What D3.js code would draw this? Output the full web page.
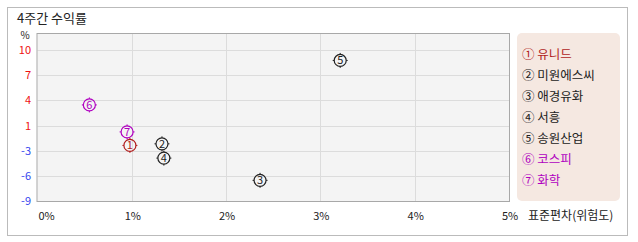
<!DOCTYPE html>
<html>
<head>
<meta charset="utf-8">
<script src="https://cdn.jsdelivr.net/npm/d3@7"></script>
<style>
  body { margin: 0; background: #fff; }
  text { font-family: "Noto Sans CJK KR", "DejaVu Sans", sans-serif; }
</style>
</head>
<body>
<div id="chart"></div>
<script>
// data
var names = ["유니드", "미원에스씨", "애경유화", "서흥", "송원산업", "코스피", "화학"];
var marks = ["①", "②", "③", "④", "⑤", "⑥", "⑦"];
var risk = [0.98, 1.32, 2.36, 1.34, 3.21, 0.55, 0.95];      // 표준편차 %
var returns = [-2.0, -1.8, -6.4, -3.6, 8.7, 3.1, -0.3];      // 4주간 수익률 %
var colors = ["#b01c1c", "#222222", "#222222", "#222222", "#222222", "#b000c0", "#b000c0"];
var xTicks = [0, 1, 2, 3, 4, 5];
var yTicks = [-9, -5.83, -2.67, 0.5, 3.67, 6.83, 10];

var W = 638, H = 242;
var plot = { left: 37.5, right: 509, top: 34, bottom: 201 };

var svg = d3.select("#chart").append("svg")
    .attr("width", W)
    .attr("height", H);

// outer frame
svg.append("rect")
    .attr("x", 7.5).attr("y", 7.5)
    .attr("width", 620).attr("height", 228)
    .attr("fill", "#fff")
    .attr("stroke", "#bbb");

svg.append("text")
    .attr("x", 17).attr("y", 23)
    .style("font-size", "13px")
    .attr("fill", "#222")
    .text("4주간 수익률");

var x = d3.scaleLinear().domain([0, 5]).range([plot.left, plot.right]);
var y = d3.scaleLinear().domain([-9, 12.03]).range([plot.bottom, plot.top]);

svg.append("rect")
    .attr("x", plot.left).attr("y", plot.top)
    .attr("width", plot.right - plot.left)
    .attr("height", plot.bottom - plot.top)
    .attr("fill", "#f4f4f4");

// grid
svg.append("g").selectAll("line")
    .data(xTicks.slice(1, -1))
    .enter().append("line")
    .attr("x1", function (d) { return Math.round(x(d)) + 0.5; })
    .attr("x2", function (d) { return Math.round(x(d)) + 0.5; })
    .attr("y1", plot.top).attr("y2", plot.bottom)
    .attr("stroke", "#dcdcdc");

svg.append("g").selectAll("line")
    .data(yTicks.slice(1))
    .enter().append("line")
    .attr("x1", plot.left).attr("x2", plot.right)
    .attr("y1", function (d) { return Math.round(y(d)) + 0.5; })
    .attr("y2", function (d) { return Math.round(y(d)) + 0.5; })
    .attr("stroke", "#dcdcdc");

// plot border
svg.append("rect")
    .attr("x", plot.left - 0.5).attr("y", plot.top - 0.5)
    .attr("width", plot.right - plot.left + 1)
    .attr("height", plot.bottom - plot.top + 1)
    .attr("fill", "none").attr("stroke", "#a8a8a8");

// y labels
svg.append("text")
    .attr("x", 25).attr("y", 39)
    .attr("text-anchor", "middle")
    .style("font-size", "10px")
    .attr("fill", "#222")
    .text("%");

svg.append("g").selectAll("text")
    .data(yTicks)
    .enter().append("text")
    .attr("x", 31)
    .attr("y", function (d) { return y(d) + 4; })
    .attr("text-anchor", "end")
    .style("font-size", "11px")
    .attr("fill", function (d) { return d > 0 ? "#ee1111" : "#3344ee"; })
    .text(function (d) { return Math.round(d); });

// x labels
svg.append("g").selectAll("text")
    .data(xTicks)
    .enter().append("text")
    .attr("x", function (d) { return x(d) + 1; })
    .attr("y", 220)
    .attr("text-anchor", function (d, i) { return i == 0 ? "start" : "middle"; })
    .style("font-size", "11px")
    .attr("fill", "#222")
    .text(function (d) { return d + "%"; });

svg.append("text")
    .attr("x", 528).attr("y", 220)
    .style("font-size", "12px")
    .attr("fill", "#222")
    .text("표준편차(위험도)");

// points
var pts = svg.append("g").selectAll("g")
    .data(names)
    .enter().append("g")
    .attr("transform", function (d, i) {
        return "translate(" + x(risk[i]) + "," + y(returns[i]) + ")";
    });

pts.append("circle")
    .attr("r", 6)
    .attr("fill", "none")
    .attr("stroke", function (d, i) { return colors[i]; })
    .attr("stroke-width", 1.2);

pts.append("path")
    .attr("d", "M0,-7.5V-6M0,6V7.5M-7.5,0H-6M6,0H7.5")
    .attr("stroke", function (d, i) { return colors[i]; })
    .attr("stroke-width", 1);

pts.append("text")
    .attr("y", 4)
    .attr("text-anchor", "middle")
    .style("font-size", "11px")
    .attr("fill", function (d, i) { return colors[i]; })
    .text(function (d, i) { return i + 1; });

// legend
svg.append("rect")
    .attr("x", 517).attr("y", 33)
    .attr("width", 103).attr("height", 168)
    .attr("rx", 5)
    .attr("fill", "#f5e8e1");

svg.append("g").selectAll("text")
    .data(names)
    .enter().append("text")
    .attr("x", 522)
    .attr("y", function (d, i) { return 59 + i * 21; })
    .style("font-size", "12.5px")
    .attr("fill", function (d, i) { return colors[i]; })
    .text(function (d, i) { return marks[i] + " " + d; });
</script>
</body>
</html>
